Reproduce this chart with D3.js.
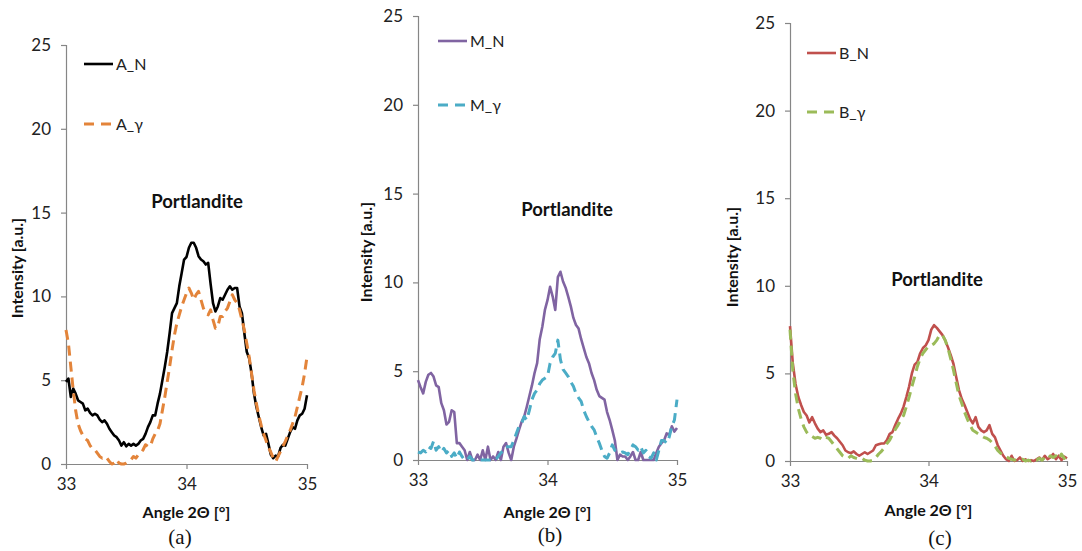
<!DOCTYPE html>
<html>
<head>
<meta charset="utf-8">
<script src="https://cdn.jsdelivr.net/npm/d3@7"></script>
<style>
  html, body { margin: 0; padding: 0; background: #fff; }
  svg { display: block; }
  text { font-family: Lato, "Open Sans", sans-serif; }
</style>
</head>
<body>
<svg id="chart" width="1082" height="551"></svg>
<script>
// ---------- DATA ----------
const angles = d3.range(0, 101).map(i => +(33 + i * 0.02).toFixed(2)); // 2θ sampling, 33..35 step 0.02
const yTicks = [0, 5, 10, 15, 20, 25];
const xTicks = [33, 34, 35];
const panelCaptions = ["(a)", "(b)", "(c)"];
const peakLabel = "Portlandite";
const xTitle = "Angle 2Θ [°]";
const yTitle = "Intensity [a.u.]";

const seriesNames = [["A_N", "A_γ"], ["M_N", "M_γ"], ["B_N", "B_γ"]];

const A_N = [4.9,5.1,4.0,4.5,4.2,3.8,3.7,3.6,3.2,3.3,3.05,2.9,3.0,2.9,2.65,2.5,2.6,2.4,2.1,1.9,1.7,1.6,1.4,1.1,1.3,1.05,1.2,1.1,1.2,1.1,1.2,1.4,1.5,1.8,2.2,2.5,2.9,2.9,3.6,4.2,5.0,5.8,6.7,7.8,9.0,9.3,9.6,10.6,11.4,12.2,12.35,12.9,13.2,13.2,12.9,12.4,12.2,12.1,11.9,12.0,10.75,9.6,9.1,9.4,9.9,9.8,10.1,10.4,10.6,10.4,10.5,10.5,9.4,9.0,7.8,6.7,6.3,5.4,4.2,3.4,2.8,2.2,1.7,1.8,1.2,0.55,0.35,0.5,0.45,0.95,1.15,1.1,1.5,1.9,2.2,2.1,2.6,2.9,3.0,3.3,4.1];
const A_g = [8.0,7.2,5.8,4.4,3.2,2.4,2.0,1.7,1.5,1.4,1.1,0.9,0.85,0.65,0.45,0.35,0.45,0.35,0.15,0,0.05,0.25,0.05,0,0,0.05,0.15,0.25,0.45,0.35,0.55,0.65,0.85,1.15,1.05,1.05,1.5,1.8,2.0,2.4,3.2,4.0,4.9,5.8,6.8,7.7,8.4,8.9,9.4,9.8,10.2,10.5,10.2,9.8,10.1,10.3,9.8,9.3,9.0,8.9,9.2,8.6,8.1,8.2,8.8,8.8,9.1,9.3,9.7,10.1,9.8,9.6,9.2,8.6,8.0,7.2,6.4,5.4,4.4,3.6,2.9,2.3,1.8,1.4,1.0,0.7,0.35,0.15,0.45,0.75,1.05,1.35,1.7,2.0,2.4,2.8,3.4,4.0,4.6,5.4,6.4];
const M_N = [4.5,4.1,3.75,4.4,4.8,4.9,4.7,4.2,4.1,3.2,2.8,2.0,2.15,2.8,2.7,0.95,0.95,0.75,0.55,0,0.45,0,0,0.3,0,0.55,0,0.75,0,0.2,0,0.45,0,0.75,0.95,0.4,0,0.75,1.2,1.7,2.15,2.45,3.0,3.6,4.2,4.9,5.45,6.8,7.5,8.45,9.0,9.75,9.2,8.45,10.3,10.6,10.05,9.7,9.2,8.65,8.0,7.6,7.4,6.8,6.3,5.8,5.45,4.9,4.5,3.95,3.6,3.5,3.4,2.7,2.25,1.7,1.1,0,0.3,0.2,0.2,0,0.2,0.45,0,0,0.45,0,0,0,0,0,0.4,0.75,0.95,1.1,1.5,1.4,1.9,1.6,1.8];
const M_g = [0.45,0.4,0.55,0.45,0.75,0.65,1.05,0.55,0.75,0.45,0.65,0.4,0.55,0.2,0.4,0.1,0.45,0.2,0,0,0.2,0,0,0,0,0,0,0,0,0,0,0.2,0.4,0.55,0.75,0.75,0.75,1.1,1.5,1.9,2.05,2.45,2.25,2.8,3.4,3.75,3.95,4.3,4.5,4.6,4.7,5.45,5.8,6.0,6.75,5.65,5.1,4.9,4.7,4.4,4.15,3.75,3.5,3.3,2.8,2.45,2.15,1.9,1.7,1.3,0.95,0.55,0.2,0.1,0.4,0.85,0.55,0.45,0.4,0.45,0.4,0.3,0.55,0.85,0.75,0.55,0.75,0.4,0.55,0.2,0.1,0.4,0,0.55,1.1,1.1,0.95,1.3,1.9,2.25,3.4];
const B_N = [7.7,5.6,4.4,3.65,3.2,2.8,2.6,2.2,2.5,2.15,1.85,1.65,1.75,1.5,1.55,1.65,1.45,1.3,1.1,0.9,0.6,0.5,0.45,0.55,0.4,0.3,0.4,0.5,0.4,0.5,0.6,0.9,0.95,1.0,1.0,1.2,1.55,1.65,2.05,2.4,2.7,3.1,3.65,4.25,5.0,5.5,5.65,6.15,6.45,6.6,6.9,7.5,7.75,7.6,7.4,7.2,6.9,6.5,6.05,5.55,4.8,4.05,3.55,3.2,2.8,2.4,2.15,2.5,1.95,1.75,1.65,1.75,2.05,1.55,1.35,0.9,0.6,0.3,0.1,0,0.3,0,0.05,0.2,0,0.1,0,0.05,0,0.1,0.2,0.05,0.3,0.1,0.2,0.4,0.1,0.3,0.05,0.25,0.15];
const B_g = [7.5,5.2,3.85,3.0,2.4,1.95,1.65,1.45,1.4,1.3,1.35,1.3,1.2,1.35,1.3,1.1,0.9,0.7,0.5,0.3,0.2,0.15,0.3,0.2,0.15,0.1,0.15,0.05,0,0,0.05,0.2,0.4,0.55,0.75,1.0,1.2,1.5,1.8,2.05,2.35,2.6,3.1,3.65,4.25,4.8,5.4,5.85,6.15,6.35,6.55,6.6,6.7,6.9,7.2,7.2,6.9,6.45,5.85,5.2,4.45,3.75,3.3,2.8,2.4,2.05,1.75,1.65,1.55,1.45,1.35,1.3,1.2,1.05,0.85,0.6,0.45,0.3,0.25,0.15,0.1,0.05,0.1,0.05,0.1,0,0.05,0,0.1,0.05,0.15,0.05,0.2,0.1,0.3,0.2,0.3,0.1,0.4,0.15,0.3];

const panelSeries = [[A_N, A_g], [M_N, M_g], [B_N, B_g]];
const panelColors = [["#000000", "#E3843A"], ["#8064A2", "#4BACC6"], ["#C0504D", "#9BBB59"]];

// ---------- LAYOUT ----------
const panels = [
  { x0: 66,  x1: 307,  yTop: 45, yBot: 464, leg1: 64, leg2: 124, legX: 84,  portX: 197, portY: 202, yLabX: 17,  yLabY: 268, xLabY: 512, capX: 180, capY: 544 },
  { x0: 418, x1: 677,  yTop: 16, yBot: 460, leg1: 41, leg2: 105, legX: 438, portX: 567, portY: 210, yLabX: 366, yLabY: 252, xLabY: 512, capX: 550, capY: 542 },
  { x0: 790, x1: 1067, yTop: 23, yBot: 461, leg1: 53, leg2: 112, legX: 807, portX: 937, portY: 280, yLabX: 732, yLabY: 257, xLabY: 510, capX: 940, capY: 545 }
];

const svg = d3.select("#chart");
const axisColor = "#868686";

panels.forEach((p, pi) => {
  const g = svg.append("g");
  const x = d3.scaleLinear().domain([33, 35]).range([p.x0, p.x1]);
  const y = d3.scaleLinear().domain([0, 25]).range([p.yBot, p.yTop]);

  // y axis
  const ya = g.append("g").attr("transform", `translate(${p.x0},0)`)
    .call(d3.axisLeft(y).tickValues(yTicks).tickFormat(d3.format("d")).tickSize(5).tickPadding(10));
  // x axis
  const xa = g.append("g").attr("transform", `translate(0,${p.yBot})`)
    .call(d3.axisBottom(x).tickValues(xTicks).tickFormat(d3.format("d")).tickSize(5).tickPadding(9));
  [ya, xa].forEach(a => {
    a.select(".domain").attr("stroke", axisColor).attr("stroke-width", 1.2);
    a.selectAll(".tick line").attr("stroke", axisColor).attr("stroke-width", 1.2);
    a.selectAll(".tick text").attr("fill", "#222").style("font-size", "17px").style("font-family", "Lato, 'Open Sans', sans-serif");
  });
  ya.select(".domain").attr("d", `M0.5,${p.yTop}V${p.yBot}`);
  xa.select(".domain").attr("d", `M${p.x0},0.5H${p.x1}`);

  // lines
  const line = d3.line().x((d, i) => x(angles[i])).y(d => y(d));
  panelSeries[pi].forEach((vals, si) => {
    g.append("path").datum(vals)
      .attr("d", line)
      .attr("fill", "none")
      .attr("stroke", panelColors[pi][si])
      .attr("stroke-width", si === 0 ? 2.6 : 3)
      .attr("stroke-linejoin", "round")
      .attr("stroke-dasharray", si === 0 ? null : "10,6");
  });

  // legend
  [p.leg1, p.leg2].forEach((ly, si) => {
    g.append("line")
      .attr("x1", p.legX).attr("x2", p.legX + 29)
      .attr("y1", ly).attr("y2", ly)
      .attr("stroke", panelColors[pi][si])
      .attr("stroke-width", si === 0 ? 2.6 : 3)
      .attr("stroke-dasharray", si === 0 ? null : "10,7");
    g.append("text")
      .attr("x", p.legX + 32).attr("y", ly)
      .attr("dy", "0.35em")
      .style("font-size", "16px").attr("fill", "#222")
      .text(seriesNames[pi][si]);
  });

  // Portlandite label
  g.append("text")
    .attr("x", p.portX).attr("y", p.portY).attr("dy", "0.35em")
    .attr("text-anchor", "middle")
    .style("font-size", "18.5px").style("font-weight", "bold").attr("fill", "#111")
    .text(peakLabel);

  // axis titles
  g.append("text")
    .attr("transform", `translate(${p.yLabX},${p.yLabY}) rotate(-90)`)
    .attr("text-anchor", "middle").attr("dy", "0.35em")
    .style("font-size", "16px").style("font-weight", "bold").attr("fill", "#111")
    .text(yTitle);
  g.append("text")
    .attr("x", (p.x0 + p.x1) / 2).attr("y", p.xLabY).attr("dy", "0.35em")
    .attr("text-anchor", "middle")
    .style("font-size", "16px").style("font-weight", "bold").attr("fill", "#111")
    .text(xTitle);

  // caption
  g.append("text")
    .attr("x", p.capX).attr("y", p.capY)
    .attr("text-anchor", "middle")
    .style("font-family", "'Liberation Serif', 'DejaVu Serif', serif")
    .style("font-size", "21px").attr("fill", "#111")
    .text(panelCaptions[pi]);
});
</script>
</body>
</html>
